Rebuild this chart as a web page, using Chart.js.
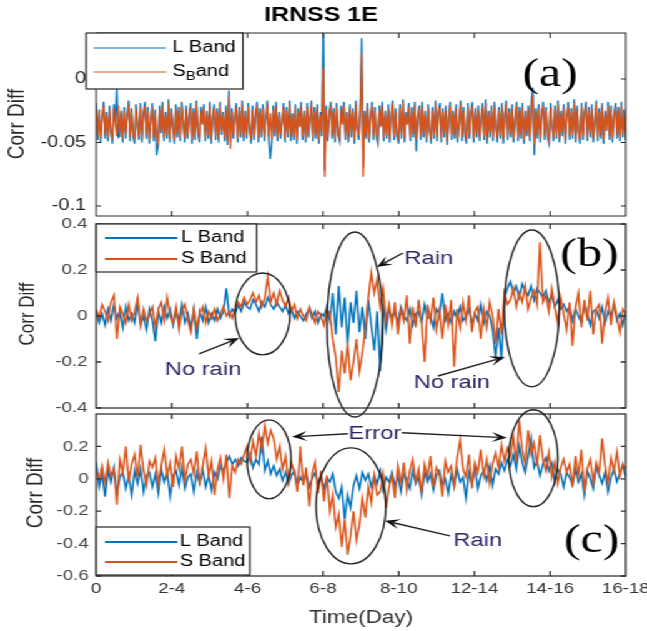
<!DOCTYPE html>
<html>
<head>
<meta charset="utf-8">
<script src="https://cdn.jsdelivr.net/npm/chart.js@4.4.1/dist/chart.umd.min.js"></script>
<style>
  html, body { margin: 0; background: #fff; overflow: hidden; }
  /* figure is drawn narrow and widened, like the exported MATLAB figure */
  #fig { position: relative; width: 518px; height: 631px; transform: scaleX(1.249); transform-origin: 0 0; }
  #fig canvas { position: absolute; left: 0; top: 0; }
</style>
</head>
<body>
<div id="fig">
  <canvas id="pa" width="518" height="631"></canvas>
  <canvas id="pb" width="518" height="631"></canvas>
  <canvas id="pc" width="518" height="631"></canvas>
</div>
<script>
const FONT = '"Liberation Sans", Arial, sans-serif';
const BLUE = '#0072BD';
const ORANGE = '#D95319';

// day axis shared by all three panels
const dayTicks = [0, 1, 2, 3, 4, 5, 6, 7];
const dayLabels = ['0', '2-4', '4-6', '6-8', '8-10', '12-14', '14-16', '16-18'];

// (a) IRNSS 1E, whole record
const yTicksA = [0, -0.05, -0.1];
const yLabelsA = ['0', '-0.05', '-0.1'];
const lBandA = [
  -.019,-.048,-.024,-.050,-.030,-.018,-.047,-.026,-.049,-.021,-.042,-.051,-.020,-.034,-.007,-.046,-.045,-.025,-.050,-.022,
  -.047,-.028,-.017,-.049,-.023,-.045,-.051,-.020,-.036,-.048,-.019,-.050,-.027,-.018,-.047,-.022,-.051,-.032,-.019,-.049,
  -.024,-.060,-.052,-.021,-.043,-.018,-.049,-.026,-.047,-.016,-.050,-.023,-.037,-.051,-.020,-.046,-.022,-.049,-.018,-.033,
  -.050,-.021,-.047,-.027,-.019,-.051,-.023,-.048,-.017,-.043,-.050,-.022,-.035,-.020,-.049,-.025,-.047,-.018,-.051,-.029,
  -.020,-.048,-.023,-.050,-.018,-.044,-.026,-.049,-.021,-.052,-.009,-.050,-.023,-.047,-.030,-.019,-.050,-.022,-.046,-.017,
  -.049,-.025,-.047,-.019,-.038,-.051,-.021,-.048,-.027,-.018,-.050,-.023,-.046,-.020,-.049,-.031,-.017,-.048,-.063,-.051,
  -.021,-.045,-.018,-.049,-.026,-.047,-.034,-.019,-.050,-.022,-.046,-.017,-.049,-.027,-.048,-.020,-.051,-.023,-.037,-.018,
  -.048,-.025,-.050,-.019,-.046,-.029,-.017,-.049,-.022,-.047,-.020,-.051,-.026,-.045,.050,-.072,-.021,-.049,-.027,-.018,
  -.047,-.023,-.050,-.019,-.044,-.049,-.021,-.035,-.018,-.048,-.026,-.050,-.020,-.046,-.023,-.051,-.017,-.038,-.048,-.022,
  .032,-.070,-.025,-.047,-.019,-.050,-.029,-.018,-.048,-.022,-.046,-.051,-.021,-.037,-.018,-.049,-.025,-.047,-.020,-.050,
  -.027,-.017,-.048,-.023,-.045,-.051,-.020,-.047,-.016,-.050,-.026,-.035,-.019,-.049,-.022,-.046,-.018,-.057,-.029,-.021,
  -.048,-.018,-.046,-.025,-.050,-.020,-.039,-.051,-.022,-.047,-.017,-.049,-.026,-.019,-.050,-.023,-.046,-.021,-.052,-.030,
  -.018,-.048,-.025,-.047,-.020,-.050,-.034,-.017,-.049,-.022,-.045,-.051,-.019,-.047,-.026,-.018,-.050,-.023,-.046,-.021,
  -.049,-.029,-.019,-.048,-.016,-.051,-.025,-.046,-.021,-.049,-.018,-.038,-.050,-.022,-.047,-.019,-.051,-.027,-.017,-.048,
  -.023,-.046,-.020,-.050,-.030,-.018,-.049,-.022,-.047,-.019,-.051,-.025,-.045,-.021,-.049,-.017,-.007,-.060,-.023,-.047,
  -.020,-.050,-.026,-.018,-.048,-.022,-.046,-.051,-.019,-.036,-.049,-.021,-.047,-.017,-.050,-.025,-.045,-.020,-.051,-.029,
  -.018,-.048,-.023,-.047,-.016,-.050,-.021,-.042,-.051,-.019,-.048,-.026,-.018,-.049,-.022,-.046,-.020,-.050,-.032,-.017,
  -.049,-.023,-.047,-.019,-.051,-.025,-.041,-.018,-.048,-.021,-.050,-.028,-.019,-.047,-.022,-.049,-.018,-.046,-.024,-.048
];
const sBandA = [
  -.022,-.045,-.026,-.047,-.031,-.021,-.044,-.028,-.046,-.024,-.040,-.048,-.023,-.035,-.045,-.021,-.043,-.027,-.047,-.025,
  -.044,-.030,-.020,-.046,-.026,-.042,-.048,-.023,-.037,-.045,-.022,-.047,-.029,-.021,-.044,-.025,-.048,-.033,-.022,-.046,
  -.027,-.045,-.050,-.024,-.041,-.021,-.046,-.028,-.044,-.019,-.047,-.026,-.038,-.048,-.023,-.043,-.025,-.046,-.021,-.034,
  -.047,-.024,-.044,-.029,-.022,-.048,-.026,-.045,-.020,-.041,-.047,-.025,-.036,-.023,-.046,-.027,-.044,-.021,-.048,-.030,
  -.023,-.045,-.026,-.047,-.021,-.042,-.028,-.046,-.024,-.049,-.014,-.055,-.026,-.044,-.031,-.022,-.047,-.025,-.043,-.020,
  -.046,-.027,-.044,-.022,-.039,-.048,-.024,-.045,-.029,-.021,-.047,-.026,-.043,-.023,-.046,-.032,-.020,-.045,-.027,-.048,
  -.024,-.042,-.021,-.046,-.028,-.044,-.035,-.022,-.047,-.025,-.043,-.020,-.046,-.029,-.045,-.023,-.048,-.026,-.038,-.021,
  -.045,-.027,-.047,-.022,-.043,-.030,-.020,-.046,-.025,-.044,-.023,-.048,-.028,-.042,.009,-.077,-.024,-.046,-.029,-.021,
  -.044,-.026,-.047,-.022,-.041,-.046,-.024,-.036,-.021,-.045,-.028,-.047,-.023,-.043,-.026,-.048,-.020,-.039,-.045,-.025,
  .020,-.077,-.027,-.044,-.022,-.047,-.030,-.021,-.045,-.025,-.043,-.048,-.024,-.038,-.021,-.046,-.027,-.044,-.023,-.047,
  -.029,-.020,-.045,-.026,-.042,-.048,-.023,-.044,-.019,-.047,-.028,-.036,-.022,-.046,-.025,-.043,-.021,-.048,-.030,-.024,
  -.045,-.021,-.043,-.027,-.047,-.023,-.040,-.048,-.025,-.044,-.020,-.046,-.028,-.022,-.047,-.026,-.043,-.024,-.049,-.031,
  -.021,-.045,-.027,-.044,-.023,-.047,-.035,-.020,-.046,-.025,-.042,-.048,-.022,-.044,-.028,-.021,-.047,-.026,-.043,-.024,
  -.046,-.030,-.022,-.045,-.019,-.048,-.027,-.043,-.024,-.046,-.021,-.039,-.047,-.025,-.044,-.022,-.048,-.029,-.020,-.045,
  -.026,-.043,-.023,-.047,-.031,-.021,-.046,-.025,-.044,-.022,-.048,-.027,-.042,-.024,-.046,-.020,-.015,-.052,-.026,-.044,
  -.023,-.047,-.028,-.021,-.045,-.025,-.043,-.048,-.022,-.037,-.046,-.024,-.044,-.020,-.047,-.027,-.042,-.023,-.048,-.030,
  -.021,-.045,-.026,-.044,-.019,-.047,-.024,-.041,-.048,-.022,-.045,-.028,-.021,-.046,-.025,-.043,-.023,-.047,-.033,-.020,
  -.046,-.026,-.044,-.022,-.048,-.027,-.040,-.021,-.045,-.024,-.047,-.029,-.022,-.044,-.025,-.046,-.021,-.043,-.027,-.045
];

// (b)
const yTicksB = [0.4, 0.2, 0, -0.2, -0.4];
const yLabelsB = ['0.4', '0.2', '0', '-0.2', '-0.4'];
const lBandB = [
  .02,-.03,.01,-.04,.03,-.02,.05,-.01,.02,-.05,.04,-.02,.01,-.03,.06,-.04,.00,-.06,.03,-.02,
  -.11,.02,-.03,.04,-.01,.03,-.04,.02,-.02,.05,-.03,.01,-.05,.03,-.10,.02,-.02,.04,-.03,.01,
  -.02,.03,-.01,.02,.12,.00,.03,.01,.05,.02,.06,.04,.03,.07,.05,.02,.06,.04,.08,.05,
  .03,.06,.04,.02,.05,.01,.03,-.01,.02,.00,-.02,.01,.03,-.01,.02,-.03,.01,.00,.04,-.02,
  .10,-.08,.13,-.05,.08,-.12,.06,-.03,.11,-.07,.04,-.10,.07,-.04,-.15,.02,-.24,.05,-.06,.03,
  -.01,.02,-.03,.04,.00,-.02,.03,-.04,.01,.02,-.03,.05,-.01,.00,-.05,.03,.01,.10,-.02,.01,
  -.03,.02,-.01,.04,-.02,.00,.03,-.04,.01,-.02,.05,-.03,.02,.00,-.06,-.18,-.05,-.19,.08,.12,
  .15,.10,.13,.08,.14,.11,.09,.13,.07,.12,.10,.08,.11,.06,.09,.04,.07,.03,.05,.02,
  .04,-.02,.03,.00,-.03,.05,.01,-.04,.02,.03,-.01,.04,-.03,.02,.00,.05,-.02,.01,-.04,.02
];
const sBandB = [
  .03,-.01,.05,.02,-.02,.06,.09,-.10,.04,.01,-.03,.05,-.02,.02,.08,-.04,.03,-.02,.01,.04,
  -.05,.03,.06,-.02,.08,.00,-.03,.04,-.06,.02,.05,-.02,-.07,.03,-.05,.01,.04,-.03,.02,-.01,
  .03,-.02,.01,.04,.00,.02,-.01,.03,.06,.04,.08,.05,.07,.10,.06,.09,.04,.08,.17,.06,
  .10,.05,.11,.07,.04,.08,.02,.05,-.01,.03,.00,-.02,.04,.01,-.03,.02,.00,-.04,.03,.01,
  -.10,-.18,-.33,-.15,-.25,-.12,-.28,-.20,-.10,-.24,-.16,-.05,.08,.19,.10,.16,.04,.12,-.02,.05,
  -.04,.06,-.08,.03,-.02,.09,-.12,.04,-.05,.07,-.03,-.20,.05,-.02,.08,-.06,.02,-.10,.05,-.04,
  .07,-.22,.03,-.05,.06,-.02,.09,-.07,.02,.04,-.10,.03,-.05,.06,.00,-.12,.03,-.08,.10,.05,
  .07,.12,.04,.10,.06,.13,.03,.08,.11,.05,.32,.06,.09,.02,.12,.04,-.03,.08,.01,-.06,
  .06,-.13,.04,.10,-.05,.07,-.02,.11,-.08,.03,.05,-.12,.02,.08,-.04,.06,.00,-.07,.03,.01
];

// (c)
const yTicksC = [0.2, 0, -0.2, -0.4, -0.6];
const yLabelsC = ['0.2', '0', '-0.2', '-0.4', '-0.6'];
const lBandC = [
  .10,-.05,.03,-.11,.05,-.02,.07,-.09,.01,.04,-.06,.02,-.10,.05,-.03,.06,-.08,.02,.04,-.05,
  .03,-.09,.06,-.02,.04,-.11,.02,.05,-.04,.07,-.06,.01,.03,-.08,.04,-.03,.06,-.05,.02,-.07,
  .04,.00,.08,.05,.10,.14,.09,.12,.08,.13,.11,.10,.15,.07,.12,.09,.26,.05,.11,.03,
  .08,.02,.06,-.01,.04,-.03,.02,.05,-.04,.01,-.02,.03,-.05,.00,.04,-.03,.02,-.06,.01,-.02,
  .03,-.08,-.12,-.05,-.25,-.10,-.18,-.04,.02,-.06,.04,-.01,.03,-.05,.02,-.03,.05,-.07,.01,-.02,
  .04,-.05,.02,-.08,.03,.00,-.06,.05,-.03,.01,-.10,.04,-.02,.03,-.07,.02,.05,-.04,.00,-.09,
  .03,-.05,.06,-.02,.01,-.12,.04,-.03,.07,-.06,.02,.05,-.01,.08,-.04,.06,.03,.10,.05,.12,
  .08,.15,.06,.20,.10,.04,.14,.25,.07,.11,.02,.09,.13,.05,.10,-.02,.06,.03,-.05,.04,
  .01,-.04,.06,-.02,.03,-.10,.05,.00,-.06,.08,.02,-.03,.04,-.08,.01,.06,-.02,.03,.09,.01
];
const sBandC = [
  .05,.00,.08,-.03,.10,.02,.06,-.16,.12,.04,.20,-.02,.09,.15,.01,.21,.05,-.04,.11,.07,
  .13,-.03,.08,.18,.02,.10,-.05,.14,.06,.20,-.01,.09,.12,.03,.17,-.04,.08,.19,.02,.11,
  -.10,.06,.13,.00,.15,-.12,.08,.04,.12,.09,.15,.20,.11,.23,.14,.28,.18,.33,.22,.30,
  .25,.12,.20,.06,.14,-.02,.10,.04,-.08,.20,-.04,.07,-.17,.03,.10,-.09,.05,-.14,.02,-.20,
  -.10,-.30,-.22,-.42,-.25,-.47,-.35,-.20,-.38,-.28,-.12,-.24,-.05,-.15,.02,-.10,-.08,.03,-.18,-.05,
  .02,-.12,.08,-.03,.10,-.07,.05,.12,-.02,.06,-.09,.09,.01,.14,-.05,.07,.03,-.11,.11,.04,
  .08,-.04,.13,.24,.06,.01,.15,-.06,.10,.04,.18,.02,.12,-.03,.09,.16,.07,.21,.11,.19,
  .14,.26,.10,.36,.18,.09,.30,.15,.22,.08,.27,.12,.05,.16,.01,.10,-.03,.07,.12,.04,
  .09,-.05,.14,.02,.18,-.08,.06,.12,-.02,.10,.04,.25,.08,-.03,.13,.05,.17,.02,.09,.06
];

Chart.defaults.font.family = FONT;

// samples are spread evenly over the day axis
const pts = arr => arr.map((v, i) => ({ x: i * 7 / (arr.length - 1), y: v }));

// text with '_' marking a subscript character
function richText(ctx, str, x, y, size) {
  let cx = x;
  for (let i = 0; i < str.length; i++) {
    let ch = str[i], sub = false;
    if (ch === '_') { sub = true; ch = str[++i]; }
    const s = sub ? Math.round(size * 0.72) : size;
    ctx.font = s + 'px ' + FONT;
    ctx.fillText(ch, cx, sub ? y + size * 0.32 : y);
    cx += ctx.measureText(ch).width;
  }
}

function arrow(ctx, x1, y1, x2, y2) {
  const a = Math.atan2(y2 - y1, x2 - x1), c = Math.cos(a), s = Math.sin(a);
  const L = 12, W = 5;
  ctx.beginPath();
  ctx.moveTo(x1, y1);
  ctx.lineTo(x2 - c * 7, y2 - s * 7);
  ctx.stroke();
  ctx.beginPath();
  ctx.moveTo(x2, y2);
  ctx.lineTo(x2 - L * c + W * s, y2 - L * s - W * c);
  ctx.lineTo(x2 - 0.55 * L * c, y2 - 0.55 * L * s);
  ctx.lineTo(x2 - L * c - W * s, y2 - L * s + W * c);
  ctx.closePath();
  ctx.fill();
}

// frame with inward ticks, boxed legend, circled regions and notes
const decor = {
  id: 'decor',
  afterDatasetsDraw(chart, args, o) {
    const { ctx, chartArea: a, scales: { x, y } } = chart;
    const px = v => x.getPixelForValue(v), py = v => y.getPixelForValue(v);
    ctx.save();

    ctx.strokeStyle = o.frameColor;
    ctx.lineWidth = o.frameWidth;
    ctx.strokeRect(a.left, a.top, a.right - a.left, a.bottom - a.top);
    ctx.beginPath();
    dayTicks.slice(1, -1).forEach(t => {
      ctx.moveTo(px(t), a.bottom); ctx.lineTo(px(t), a.bottom - 5);
      ctx.moveTo(px(t), a.top); ctx.lineTo(px(t), a.top + 5);
    });
    o.yTicks.forEach(t => {
      ctx.moveTo(a.left, py(t)); ctx.lineTo(a.left + 4, py(t));
      ctx.moveTo(a.right, py(t)); ctx.lineTo(a.right - 4, py(t));
    });
    ctx.stroke();

    // ellipses and arrows
    ctx.strokeStyle = '#222';
    ctx.fillStyle = '#111';
    ctx.lineWidth = 1.4;
    (o.rings || []).forEach(e => {
      ctx.beginPath();
      ctx.ellipse(px(e.x), py(e.y), Math.abs(px(e.x + e.rx) - px(e.x)), Math.abs(py(e.y + e.ry) - py(e.y)), 0, 0, Math.PI * 2);
      ctx.stroke();
    });
    (o.arrows || []).forEach(r => arrow(ctx, px(r[0]), py(r[1]), px(r[2]), py(r[3])));

    ctx.fillStyle = '#2b2566';
    ctx.font = '19px ' + FONT;
    ctx.textAlign = 'center';
    ctx.textBaseline = 'middle';
    (o.notes || []).forEach(n => ctx.fillText(n.text, px(n.x), py(n.y)));

    // panel tag
    ctx.fillStyle = '#000';
    ctx.font = '40px "Liberation Serif", "Times New Roman", serif';
    ctx.fillText(o.tag.text, px(o.tag.x), py(o.tag.y));

    // legend
    const lg = o.legend;
    ctx.fillStyle = '#fff';
    ctx.fillRect(lg.box[0], lg.box[1], lg.box[2] - lg.box[0], lg.box[3] - lg.box[1]);
    ctx.strokeStyle = '#262626';
    ctx.lineWidth = 1.2;
    ctx.strokeRect(lg.box[0], lg.box[1], lg.box[2] - lg.box[0], lg.box[3] - lg.box[1]);
    ctx.textAlign = 'left';
    chart.data.datasets.forEach((ds, i) => {
      ctx.strokeStyle = ds.borderColor;
      ctx.lineWidth = lg.lineWidth;
      ctx.beginPath();
      ctx.moveTo(lg.line[0], lg.rows[i]);
      ctx.lineTo(lg.line[1], lg.rows[i]);
      ctx.stroke();
      ctx.fillStyle = '#000';
      richText(ctx, lg.labels[i], lg.textX, lg.rows[i], 16);
    });

    // y axis name
    ctx.save();
    ctx.translate(o.yName.x, o.yName.y);
    ctx.rotate(-Math.PI / 2);
    ctx.fillStyle = '#262626';
    ctx.font = o.yName.size + 'px ' + FONT;
    ctx.textAlign = 'center';
    ctx.fillText('Corr Diff', 0, 0);
    ctx.restore();

    if (o.title) {
      ctx.fillStyle = '#000';
      ctx.font = 'bold 20px ' + FONT;
      ctx.textAlign = 'center';
      ctx.fillText(o.title.text, o.title.x, o.title.y);
    }
    if (o.xName) {
      ctx.fillStyle = '#333';
      ctx.font = '18px ' + FONT;
      ctx.textAlign = 'center';
      ctx.fillText(o.xName.text, (a.left + a.right) / 2, o.xName.y);
    }
    ctx.restore();
  }
};

function makePanel(id, p) {
  return new Chart(document.getElementById(id), {
    type: 'line',
    data: {
      datasets: [
        { label: 'L Band', data: pts(p.l), borderColor: BLUE, borderWidth: p.lw, order: 2 },
        { label: 'S Band', data: pts(p.s), borderColor: ORANGE, borderWidth: p.lw, order: 1 }
      ]
    },
    options: {
      responsive: false,
      animation: false,
      events: [],
      layout: { padding: { top: p.top, bottom: p.bottom, left: 0, right: 17 } },
      elements: { point: { radius: 0 }, line: { tension: 0 } },
      scales: {
        x: {
          type: 'linear', min: 0, max: 7,
          grid: { display: false, drawTicks: false },
          border: { display: false },
          afterBuildTicks: s => { s.ticks = dayTicks.map(v => ({ value: v })); },
          afterFit: s => {
            if (!p.showX) s.height = 0;
            s.paddingLeft = 0;
            s.paddingRight = 0;
          },
          ticks: {
            display: p.showX, padding: 4, autoSkip: false, maxRotation: 0,
            color: '#333', font: { size: 15 },
            callback: (v, i) => dayLabels[i]
          }
        },
        y: {
          min: p.ymin, max: p.ymax,
          grid: { display: false, drawTicks: false },
          border: { display: false },
          afterBuildTicks: s => { s.ticks = p.yTicks.map(v => ({ value: v })); },
          afterFit: s => { s.width = 77; s.paddingTop = 0; s.paddingBottom = 0; },
          ticks: {
            padding: p.ypad, color: p.tickColor, font: { size: p.yfont },
            callback: (v, i) => p.yLabels[i]
          }
        }
      },
      plugins: {
        legend: { display: false },
        tooltip: { enabled: false },
        decor: p.decor
      }
    },
    plugins: [decor]
  });
}

makePanel('pa', {
  l: lBandA, s: sBandA, lw: 1.3, top: 33, bottom: 415, showX: false,
  ymin: -0.1079, ymax: 0.0362, yTicks: yTicksA, yLabels: yLabelsA, ypad: 8, yfont: 16, tickColor: '#262626',
  decor: {
    frameColor: '#262626', frameWidth: 1, yTicks: yTicksA,
    title: { text: 'IRNSS 1E', x: 257, y: 15 },
    yName: { x: 14, y: 124, size: 19 },
    tag: { text: '(a)', x: 6.0, y: 0.003 },
    legend: { box: [69, 33, 194.5, 89], rows: [48, 72], line: [75, 133], textX: 138, lineWidth: 1.2, labels: ['L Band', 'S_Band'] }
  }
});

makePanel('pb', {
  l: lBandB, s: sBandB, lw: 1.5, top: 224, bottom: 223, showX: false,
  ymin: -0.4, ymax: 0.4, yTicks: yTicksB, yLabels: yLabelsB, ypad: 7, yfont: 15, tickColor: '#444',
  decor: {
    frameColor: '#333', frameWidth: 1.3, yTicks: yTicksB,
    yName: { x: 22, y: 314, size: 17 },
    tag: { text: '(b)', x: 6.52, y: 0.265 },
    legend: { box: [77, 224, 205.5, 272], rows: [238, 259], line: [84, 142], textX: 145, lineWidth: 2, labels: ['L Band', 'S Band'] },
    rings: [
      { x: 2.199, y: 0.009, rx: 0.363, ry: 0.178 },
      { x: 3.421, y: -0.037, rx: 0.37, ry: 0.402 },
      { x: 5.758, y: 0.033, rx: 0.363, ry: 0.341 }
    ],
    arrows: [
      [1.36, -0.165, 1.889, -0.096],
      [4.055, 0.274, 3.711, 0.213],
      [4.517, -0.261, 5.402, -0.178]
    ],
    notes: [
      { text: 'No rain', x: 1.413, y: -0.235 },
      { text: 'Rain', x: 4.398, y: 0.248 },
      { text: 'No rain', x: 4.702, y: -0.291 }
    ]
  }
});

// x scale of the bottom panel keeps its natural height for the day labels
makePanel('pc', {
  l: lBandC, s: sBandC, lw: 1.5, top: 414, bottom: 29, showX: true,
  ymin: -0.6, ymax: 0.4, yTicks: yTicksC, yLabels: yLabelsC, ypad: 6, yfont: 15, tickColor: '#444',
  decor: {
    frameColor: '#333', frameWidth: 1.3, yTicks: yTicksC,
    yName: { x: 29, y: 493, size: 19 },
    tag: { text: '(c)', x: 6.55, y: -0.389 },
    xName: { text: 'Time(Day)', y: 618 },
    legend: { box: [77, 527, 200, 575], rows: [542, 562], line: [84, 142], textX: 144, lineWidth: 2, labels: ['L Band', 'S Band'] },
    rings: [
      { x: 2.285, y: 0.12, rx: 0.291, ry: 0.244 },
      { x: 3.368, y: -0.167, rx: 0.462, ry: 0.358 },
      { x: 5.778, y: 0.127, rx: 0.324, ry: 0.299 }
    ],
    arrows: [
      [3.328, 0.278, 2.589, 0.259],
      [4.041, 0.284, 5.428, 0.253],
      [4.675, -0.352, 3.817, -0.259]
    ],
    notes: [
      { text: 'Error', x: 3.685, y: 0.278 },
      { text: 'Rain', x: 5.045, y: -0.383 }
    ]
  }
});
</script>
</body>
</html>
